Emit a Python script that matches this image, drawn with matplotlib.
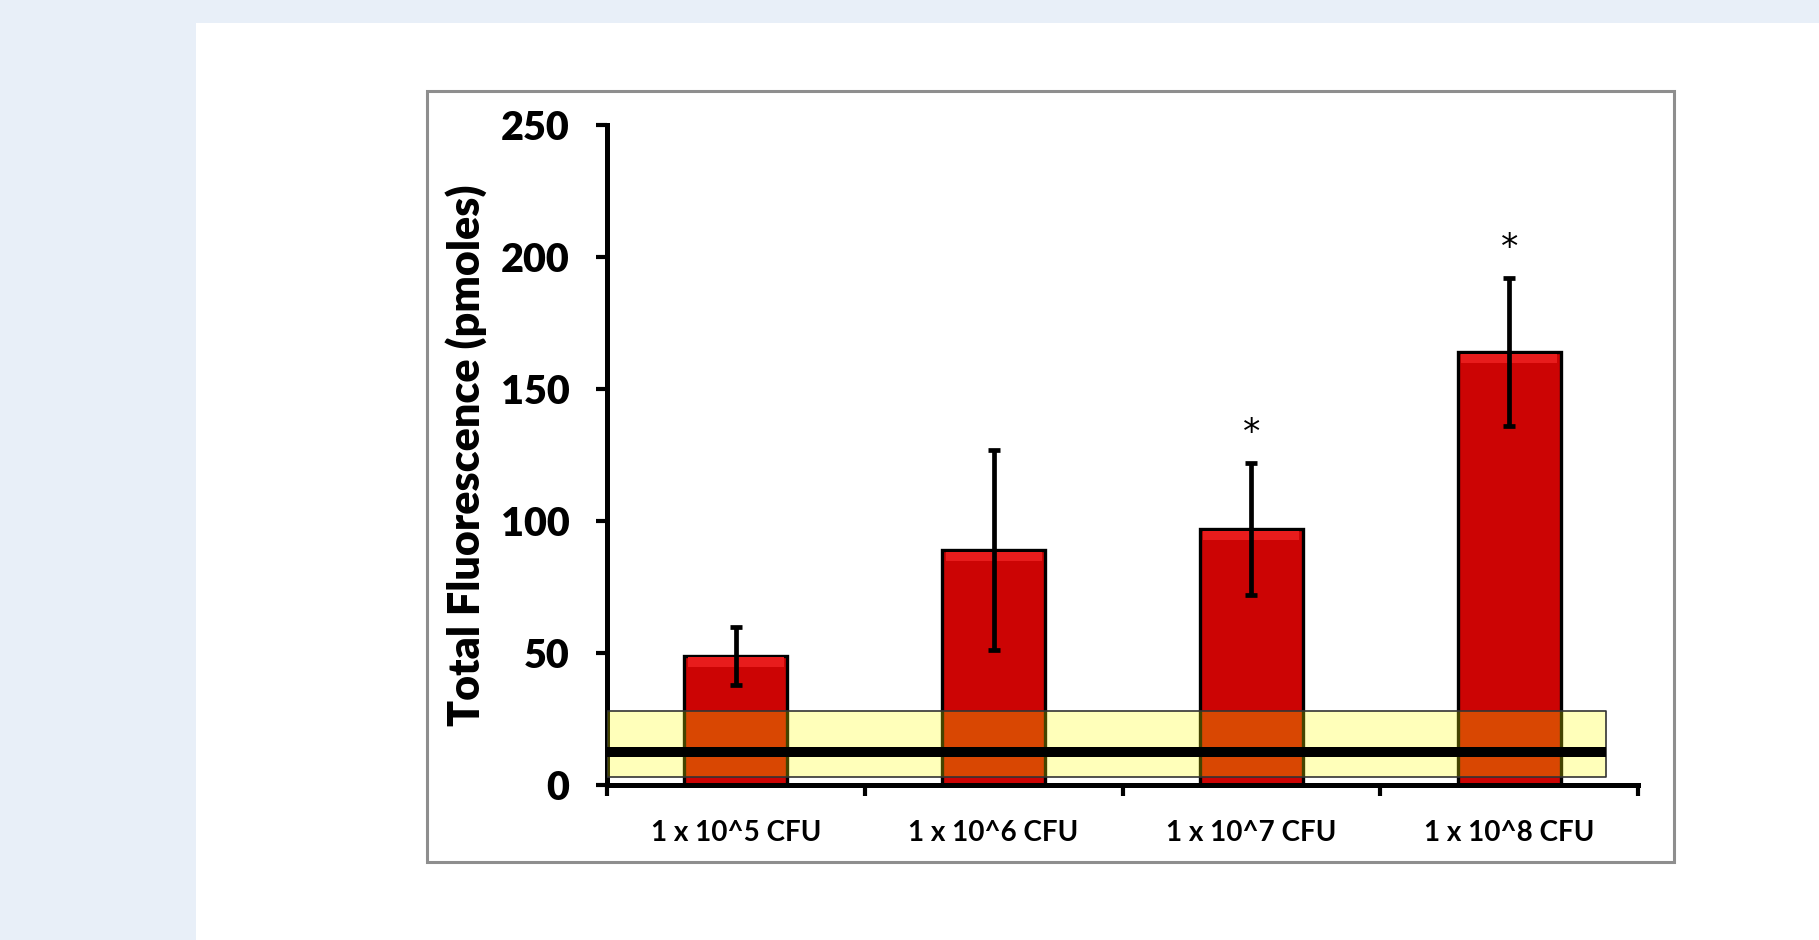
import matplotlib
matplotlib.use("Agg")
import matplotlib.pyplot as plt
from matplotlib.patches import Rectangle

# data
categories = ["1 x 10^5 CFU", "1 x 10^6 CFU", "1 x 10^7 CFU", "1 x 10^8 CFU"]
means = [49, 89, 97, 164]
errors = [11, 38, 25, 28]
significant = [False, False, True, True]
baseline = 12.5          # black background line
band_low, band_high = 3, 28   # yellow band range
yticks = [0, 50, 100, 150, 200, 250]

W, H = 1819, 940
fig = plt.figure(figsize=(W / 100, H / 100), dpi=100)
fig.patch.set_facecolor("#E8EFF8")

# white page area and gray chart frame (behind the axes)
fig.patches.append(Rectangle((196 / W, 0), 1 - 196 / W, (H - 23) / H,
                             transform=fig.transFigure, facecolor="white",
                             edgecolor="none", zorder=-2))
fig.patches.append(Rectangle((427 / W, (H - 862) / H), (1674 - 427) / W, (862 - 91) / H,
                             transform=fig.transFigure, facecolor="none",
                             edgecolor="#8E8E8E", lw=2.2, zorder=-1))

ax = fig.add_axes([607 / W, (H - 785) / H, (1638 - 607) / W, (785 - 125) / H])
ax.set_facecolor("none")

x = list(range(len(categories)))
bw = 0.40

# bars
ax.bar(x, means, width=bw, color="#CC0404", edgecolor="black", lw=2.4, zorder=2)
# lighter bevel at top of bars
ax.bar(x, [3.5] * len(means), bottom=[m - 4.2 for m in means], width=bw * 0.93,
       color="#E81C1C", edgecolor="none", zorder=2.1)

# error bars
ax.errorbar(x, means, yerr=errors, fmt="none", ecolor="black", elinewidth=3.4,
            capsize=4, capthick=3.4, zorder=3)

# asterisks
for i in x:
    if significant[i]:
        ax.text(i, means[i] + errors[i] + 11.5, "*", ha="center", va="center",
                fontsize=25, family="DejaVu Sans", color="black", zorder=4)

# background band and line, drawn over the bars
xe = 3.376
ax.fill_between([-0.5, xe], band_low, band_high, facecolor=(1, 1, 0, 0.27),
                edgecolor="#333333", lw=1.2, zorder=4)
ax.plot([-0.5, xe], [baseline, baseline], color="black", lw=7.2,
        solid_capstyle="butt", zorder=5)

ax.set_xlim(-0.5, 3.5)
ax.set_ylim(0, 250)

for s in ["top", "right"]:
    ax.spines[s].set_visible(False)
for s in ["left", "bottom"]:
    ax.spines[s].set_linewidth(3.6)
    ax.spines[s].set_color("black")

ax.set_yticks(yticks)
ax.set_yticklabels([str(v) for v in yticks], fontsize=28.5, fontweight="heavy",
                   family="Lato")
ax.tick_params(axis="y", length=8, width=3, direction="out", pad=19)

ax.set_xticks(x)
ax.set_xticklabels(categories, fontsize=20, fontweight="bold", family="Lato")
ax.tick_params(axis="x", which="major", length=0, pad=25)
ax.set_xticks([-0.5, 0.5, 1.5, 2.5, 3.5], minor=True)
ax.tick_params(axis="x", which="minor", length=8, width=3, direction="out")

ax.set_ylabel("Total Fluorescence (pmoles)", fontsize=31, fontweight="heavy",
              family="Lato", labelpad=10)

fig.savefig("out.png", dpi=100, facecolor=fig.get_facecolor())
